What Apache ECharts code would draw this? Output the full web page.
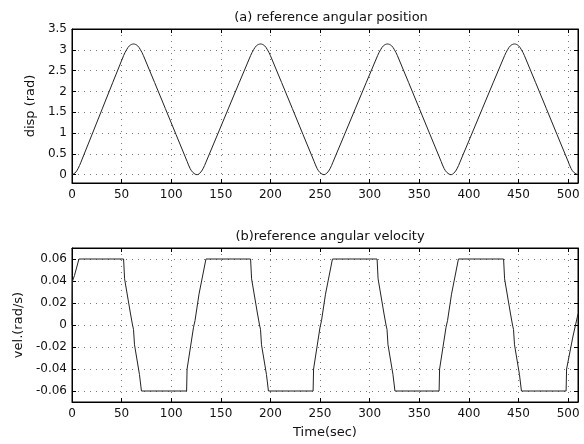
<!DOCTYPE html>
<html>
<head>
<meta charset="utf-8">
<script src="https://cdn.jsdelivr.net/npm/echarts@6/dist/echarts.min.js"></script>
<style>html,body{margin:0;padding:0;background:#fff}#c{width:584px;height:444px}</style>
</head>
<body>
<div id="c"></div>
<script>
// ---- data ----
const xTicks = [0, 50, 100, 150, 200, 250, 300, 350, 400, 450, 500];
const posTicks = [0, 0.5, 1, 1.5, 2, 2.5, 3, 3.5];
const velTicks = [-0.06, -0.04, -0.02, 0, 0.02, 0.04, 0.06];

const posT = [0,3,6,9,52,55,58,62,66,69,72,116,119,122,126,
  129,132,135,180,183,186,190,194,197,200,244,247,250,254,
  257,260,263,308,311,314,318,322,325,328,372,375,378,382,
  385,388,391,436,439,442,446,450,453,456,500,503,506,510];
const posV = [0,0.04,0.14,0.3,2.86,3.0,3.1,3.14,3.1,3.0,2.86,0.32,0.15,0.05,0,
  0.04,0.14,0.3,2.86,3.0,3.1,3.14,3.1,3.0,2.86,0.32,0.15,0.05,0,
  0.04,0.14,0.3,2.86,3.0,3.1,3.14,3.1,3.0,2.86,0.32,0.15,0.05,0,
  0.04,0.14,0.3,2.86,3.0,3.1,3.14,3.1,3.0,2.86,0.32,0.15,0.05,0];

const velT = [0,0.5,2.5,7,
  52,53,59,61,62,63,68,70,
  115.5,116,122.5,124,128,135,
  180,181,187,189,190,191,196,198,
  243,243.5,250,251.5,255.5,262.5,
  307.5,308.5,314.5,316.5,317.5,318.5,323.5,325.5,
  370,370.5,377,378.5,382.5,389.5,
  435,436,442,444,445,446,451,453,
  498,498.5,505,510];
const velV = [0,0.04,0.045,0.06,
  0.06,0.042,0.01,0,-0.004,-0.018,-0.045,-0.06,
  -0.06,-0.04,-0.002,0.004,0.028,0.06,
  0.06,0.042,0.01,0,-0.004,-0.018,-0.045,-0.06,
  -0.06,-0.04,-0.002,0.004,0.028,0.06,
  0.06,0.042,0.01,0,-0.004,-0.018,-0.045,-0.06,
  -0.06,-0.04,-0.002,0.004,0.028,0.06,
  0.06,0.042,0.01,0,-0.004,-0.018,-0.045,-0.06,
  -0.06,-0.04,-0.01,0.01];

const FONT = 'DejaVu Sans';
const txt = {color: '#111', fontFamily: FONT, fontSize: 12};
const pos = posT.map((t, i) => [t, posV[i]]);
const vel = velT.map((t, i) => [t, velV[i]]);

function xAx(gi, showLabel, name) {
  return {
    type: 'value', gridIndex: gi, min: 0, max: 510,
    name: name || '', nameLocation: 'middle', nameGap: 24,
    nameTextStyle: {...txt, fontSize: 13},
    axisLine: {show: true, onZero: false, lineStyle: {color: '#000'}},
    axisTick: {show: true, inside: true, length: 4, customValues: xTicks, lineStyle: {color: '#000'}},
    axisLabel: {show: showLabel, customValues: xTicks, margin: 6, ...txt},
    splitLine: {show: true, lineStyle: {type: [1, 5], color: '#777', width: 1}}
  };
}
function xTop(gi) {
  return {
    type: 'value', gridIndex: gi, min: 0, max: 510, position: 'top',
    axisLine: {show: true, onZero: false, lineStyle: {color: '#000'}},
    axisTick: {show: true, inside: true, length: 4, customValues: xTicks, lineStyle: {color: '#000'}},
    axisLabel: {show: false}, splitLine: {show: false}
  };
}
function yAx(gi, min, max, ticks, name, gap, fmt) {
  return {
    type: 'value', gridIndex: gi, min: min, max: max,
    name: name, nameLocation: 'middle', nameGap: gap, nameTextStyle: {...txt, fontSize: 13},
    axisLine: {show: true, onZero: false, lineStyle: {color: '#000'}},
    axisTick: {show: true, inside: true, length: 4, customValues: ticks, lineStyle: {color: '#000'}},
    axisLabel: {show: true, customValues: ticks, margin: 5, formatter: fmt, ...txt},
    splitLine: {show: true, lineStyle: {type: [1, 5], color: '#777', width: 1}}
  };
}
function yRight(gi, min, max, ticks) {
  return {
    type: 'value', gridIndex: gi, min: min, max: max, position: 'right',
    axisLine: {show: true, onZero: false, lineStyle: {color: '#000'}},
    axisTick: {show: true, inside: true, length: 4, customValues: ticks, lineStyle: {color: '#000'}},
    axisLabel: {show: false}, splitLine: {show: false}
  };
}

const chart = echarts.init(document.getElementById('c'), null, {renderer: 'canvas'});
chart.setOption({
  backgroundColor: '#fff',
  animation: false,
  title: [
    {text: '(a) reference angular position', left: 326, top: 6, textAlign: 'center',
     textStyle: {fontFamily: FONT, fontSize: 13, fontWeight: 'normal', color: '#111'}},
    {text: '(b)reference angular velocity', left: 325, top: 225, textAlign: 'center',
     textStyle: {fontFamily: FONT, fontSize: 13, fontWeight: 'normal', color: '#111'}}
  ],
  grid: [
    {left: 72, top: 29, width: 506, height: 154, show: true, borderColor: '#000', borderWidth: 1},
    {left: 72, top: 248, width: 506, height: 154, show: true, borderColor: '#000', borderWidth: 1}
  ],
  xAxis: [xAx(0, true), xAx(1, true, 'Time(sec)'), xTop(0), xTop(1)],
  yAxis: [
    yAx(0, -0.2, 3.5, posTicks, 'disp (rad)', 34, v => String(v)),
    yAx(1, -0.07, 0.07, velTicks, 'vel.(rad/s)', 46, v => {
      const r = Math.round(v * 100) / 100;
      return r === 0 ? '0' : r.toFixed(2);
    }),
    yRight(0, -0.2, 3.5, posTicks),
    yRight(1, -0.07, 0.07, velTicks)
  ],
  series: [
    {type: 'line', xAxisIndex: 0, yAxisIndex: 0, data: pos, showSymbol: false, smooth: 0.35,
     lineStyle: {color: '#222', width: 1}},
    {type: 'line', xAxisIndex: 1, yAxisIndex: 1, data: vel, showSymbol: false,
     lineStyle: {color: '#222', width: 1}}
  ]
});
</script>
</body>
</html>
